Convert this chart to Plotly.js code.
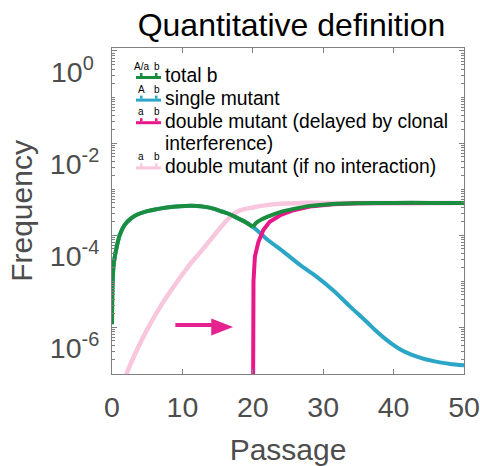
<!DOCTYPE html>
<html><head><meta charset="utf-8">
<script src="https://cdn.plot.ly/plotly-3.0.1.min.js"></script>
<style>html,body{margin:0;padding:0;background:#fff}</style>
</head><body><div id="chart" style="width:480px;height:466px"></div>
<script>
// ---- data ----
const passageTotal = [0, 0.05, 0.12, 0.28, 0.62, 1.1, 1.8, 2.7, 3.6, 4.65, 5.8, 7.0, 8.7, 10.4, 12.0, 13.2, 14.4, 15.6, 16.8, 17.9, 19.0, 20.0, 20.5, 21.3, 22.4, 23.9, 25.8, 28.1, 31.4, 35, 40, 45, 50];
const freqTotal = [1.15e-6, 6.0e-6, 1.3e-5, 2.6e-5, 5.1e-5, 1.0e-4, 1.66e-4, 2.3e-4, 2.8e-4, 3.2e-4, 3.5e-4, 3.8e-4, 4.1e-4, 4.3e-4, 4.3e-4, 4.1e-4, 3.75e-4, 3.25e-4, 2.8e-4, 2.3e-4, 1.9e-4, 1.5e-4, 1.85e-4, 2.2e-4, 2.6e-4, 3.15e-4, 3.7e-4, 4.3e-4, 4.75e-4, 4.9e-4, 5.0e-4, 5.0e-4, 5.0e-4];

const passageSingle = [0, 0.05, 0.12, 0.28, 0.62, 1.1, 1.8, 2.7, 3.6, 4.65, 5.8, 7.0, 8.7, 10.4, 12.0, 13.2, 14.4, 15.6, 16.8, 17.9, 19.0, 20.0, 21.0, 22.0, 24.3, 26.7, 29.1, 31.4, 33.8, 36.2, 37.4, 38.6, 39.8, 40.9, 42.1, 43.3, 44.5, 45.7, 48.0, 50.0];
const freqSingle = [1.15e-6, 6.0e-6, 1.3e-5, 2.6e-5, 5.1e-5, 1.0e-4, 1.66e-4, 2.3e-4, 2.8e-4, 3.2e-4, 3.5e-4, 3.8e-4, 4.1e-4, 4.3e-4, 4.3e-4, 4.1e-4, 3.75e-4, 3.25e-4, 2.8e-4, 2.3e-4, 1.9e-4, 1.5e-4, 1.12e-4, 8.1e-5, 4.4e-5, 2.24e-5, 1.23e-5, 6.3e-6, 2.82e-6, 1.29e-6, 8.5e-7, 5.9e-7, 4.27e-7, 3.31e-7, 2.69e-7, 2.29e-7, 2.0e-7, 1.82e-7, 1.58e-7, 1.48e-7];

const passageDouble = [20.0, 20.03, 20.1, 20.3, 20.5, 20.8, 21.5, 22.4, 23.9, 25.8, 28.1, 31.4, 35, 40, 45, 50];
const freqDouble = [1e-9, 2.0e-6, 1.0e-5, 3.4e-5, 5.0e-5, 7.1e-5, 1.29e-4, 1.95e-4, 2.7e-4, 3.47e-4, 4.17e-4, 4.68e-4, 4.9e-4, 5.0e-4, 5.0e-4, 5.0e-4];

const passageNoInteraction = [1.0, 2.0, 3.67, 5.1, 7.0, 8.9, 10.8, 12.4, 14.0, 15.5, 16.8, 18.1, 20.0, 22.0, 24.0, 27.0, 30, 35, 40, 45, 50];
const freqNoInteraction = [3.0e-8, 9.1e-8, 3.5e-7, 9.5e-7, 3.0e-6, 8.1e-6, 2.04e-5, 4.0e-5, 7.9e-5, 1.51e-4, 2.5e-4, 3.4e-4, 3.98e-4, 4.47e-4, 4.8e-4, 5.0e-4, 5.0e-4, 5.0e-4, 5.0e-4, 5.0e-4, 5.0e-4];

const seriesNames = ['total b', 'single mutant', 'double mutant (delayed by clonal<br>interference)', 'double mutant (if no interaction)'];
const lociLabels = [['A/a', 'b'], ['A', 'b'], ['a', 'b'], ['a', 'b']];

const xTickVals = [0, 10, 20, 30, 40, 50];
const xTickText = ['0', '10', '20', '30', '40', '50'];
const yTickVals = [1e-6, 1e-4, 1e-2, 1];
const yTickText = ['10<sup>-6</sup>', '10<sup>-4</sup>', '10<sup>-2</sup>', '10<sup>0&nbsp;</sup>'];

const arrowTail = [9.0];
const arrowBase = [14.1];
const arrowTip = [17.2];
const arrowLevel = [1e-6];

// ---- styling ----
const colTotal = '#1A8E3E', colSingle = '#2BA6C6', colDouble = '#E8188B', colNoInt = '#F8C6DD', colArrow = '#E6228E';
const FONT = 'Liberation Sans, Arial, Helvetica, sans-serif';
const axisGray = '#808080', labelGray = '#4d4d4d';
const L = 112, T = 48, W = 352, H = 326;
const px = v => (v - L) / W;
const py = v => (T + H - v) / H;

// split total b at its kink so the corner stays sharp
const kink = 20.0;
const preIdx = passageTotal.map((t, i) => i).filter(i => passageTotal[i] <= kink);
const postIdx = passageTotal.map((t, i) => i).filter(i => passageTotal[i] >= kink);

const traces = [
  {x: passageNoInteraction, y: freqNoInteraction, mode: 'lines', line: {color: colNoInt, width: 4.5, shape: 'spline', smoothing: 0.8}, hoverinfo: 'skip'},
  {x: passageSingle, y: freqSingle, mode: 'lines', line: {color: colSingle, width: 4, shape: 'spline', smoothing: 0.8}, hoverinfo: 'skip'},
  {x: passageDouble, y: freqDouble, mode: 'lines', line: {color: colDouble, width: 4}, hoverinfo: 'skip'},
  {x: preIdx.map(i => passageTotal[i]), y: preIdx.map(i => freqTotal[i]), mode: 'lines', line: {color: colTotal, width: 4, shape: 'spline', smoothing: 0.8}, hoverinfo: 'skip'},
  {x: postIdx.map(i => passageTotal[i]), y: postIdx.map(i => freqTotal[i]), mode: 'lines', line: {color: colTotal, width: 4, shape: 'spline', smoothing: 0.8}, hoverinfo: 'skip'}
];

// minor log ticks
const minorVals = [];
for (let d = -8; d <= 0; d++) for (let k = 1; k <= 9; k++) {
  const v = k * Math.pow(10, d);
  if (!yTickVals.some(t => Math.abs(Math.log10(t) - Math.log10(v)) < 1e-9)) minorVals.push(v);
}

// legend (custom glyph icons)
const shapes = [];
const annotations = [];
const iconColors = [colTotal, colSingle, colDouble, colNoInt];
const rowY = [76, 98.6, 121.2, 166.4];
const contY = 143.8;
seriesNames.forEach((name, i) => {
  const cy = rowY[i] + 1.5;
  shapes.push({type: 'rect', xref: 'paper', yref: 'paper', x0: px(136), x1: px(161), y0: py(cy + 1.5), y1: py(cy - 1.5), fillcolor: iconColors[i], line: {width: 0}});
  [[140, 142.5], [155, 157.5]].forEach(s => shapes.push({type: 'rect', xref: 'paper', yref: 'paper', x0: px(s[0]), x1: px(s[1]), y0: py(cy - 1.5), y1: py(cy - 4.5), fillcolor: iconColors[i], line: {width: 0}}));
  const lines = name.split('<br>');
  lines.forEach((ln, j) => annotations.push({xref: 'paper', yref: 'paper', x: px(163), y: py(j === 0 ? rowY[i] : contY), xanchor: 'left', yanchor: 'middle', text: ln, showarrow: false, font: {family: FONT, size: 19.3, color: '#000'}}));
  annotations.push({xref: 'paper', yref: 'paper', x: px(141.3), y: py(cy - 11), xanchor: 'center', yanchor: 'middle', text: lociLabels[i][0], showarrow: false, font: {family: FONT, size: 10, color: '#000'}});
  annotations.push({xref: 'paper', yref: 'paper', x: px(156.5), y: py(cy - 11), xanchor: 'center', yanchor: 'middle', text: lociLabels[i][1], showarrow: false, font: {family: FONT, size: 10, color: '#000'}});
});

// arrow (shaft + head), positioned in data coordinates
shapes.push({type: 'rect', xref: 'x', yref: 'y', ysizemode: 'pixel', yanchor: arrowLevel[0], x0: arrowTail[0], x1: arrowBase[0] + 0.1, y0: -4, y1: 4, fillcolor: colArrow, line: {width: 0}});
shapes.push({type: 'path', xref: 'x', yref: 'y', ysizemode: 'pixel', yanchor: arrowLevel[0],
  path: `M${arrowBase[0]},8.5 L${arrowTip[0]},0 L${arrowBase[0]},-8.5 Z`, fillcolor: colArrow, line: {width: 0}});

const layout = {
  width: 480, height: 466,
  margin: {l: L, r: 480 - L - W, t: T, b: 466 - T - H},
  paper_bgcolor: '#fff', plot_bgcolor: '#fff',
  showlegend: false,
  font: {family: FONT},
  title: {text: 'Quantitative definition', font: {family: FONT, size: 32, color: '#000'}, xref: 'paper', x: 0.51, xanchor: 'center', yref: 'container', y: 1 - 25 / 466, yanchor: 'middle'},
  xaxis: {range: [0, 50], tickvals: xTickVals, ticktext: xTickText, ticks: 'inside', ticklen: 5, tickcolor: axisGray, tickwidth: 1,
    showline: true, linecolor: axisGray, linewidth: 1, mirror: 'allticks', showgrid: false, zeroline: false,
    tickfont: {family: FONT, size: 28.5, color: labelGray}, ticklabelstandoff: 8,
    title: {text: 'Passage', font: {family: FONT, size: 30, color: labelGray}, standoff: 20}},
  yaxis: {type: 'log', range: [-7.02, 0.065], tickvals: yTickVals, ticktext: yTickText, ticks: 'inside', ticklen: 5, tickcolor: axisGray, tickwidth: 1,
    showline: true, linecolor: axisGray, linewidth: 1, mirror: 'allticks', showgrid: false, zeroline: false,
    tickfont: {family: FONT, size: 28.5, color: labelGray}, ticklabelshift: 21, ticklabelstandoff: 6,
    minor: {tickvals: minorVals, ticks: 'inside', ticklen: 3, tickcolor: axisGray, showgrid: false},
    title: {text: 'Frequency', font: {family: FONT, size: 30, color: labelGray}, standoff: 8}},
  shapes: shapes,
  annotations: annotations
};

Plotly.newPlot('chart', traces, layout, {staticPlot: true, displayModeBar: false});
</script></body></html>
